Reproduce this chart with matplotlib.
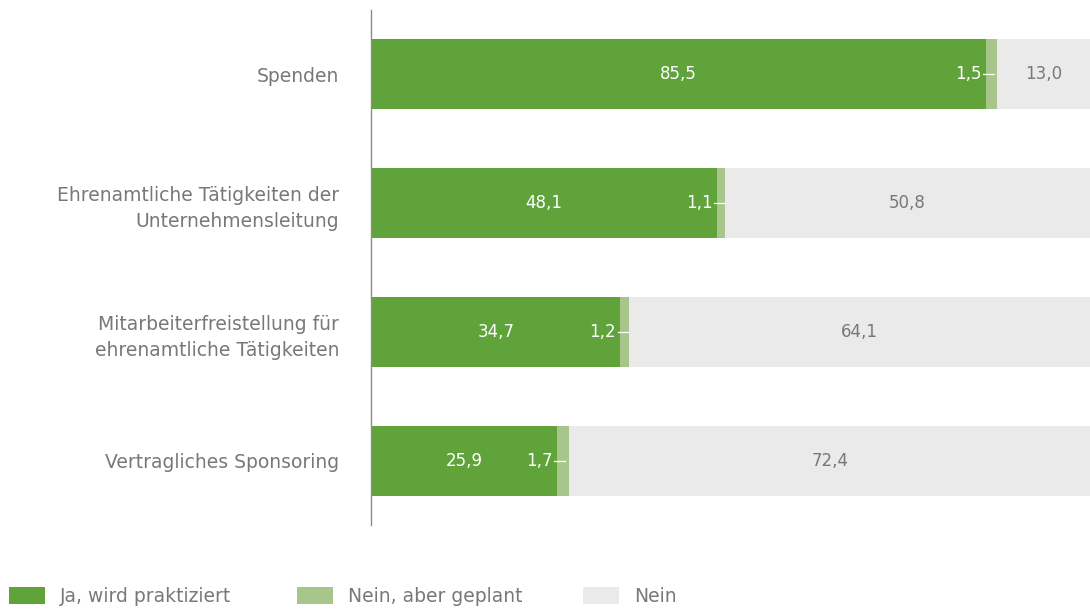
import matplotlib
matplotlib.use("Agg")
import matplotlib.pyplot as plt
from matplotlib.patches import Rectangle

# data (percent)
categories = ["Spenden",
              "Ehrenamtliche Tätigkeiten der\nUnternehmensleitung",
              "Mitarbeiterfreistellung für\nehrenamtliche Tätigkeiten",
              "Vertragliches Sponsoring"]
ja = [85.5, 48.1, 34.7, 25.9]
geplant = [1.5, 1.1, 1.2, 1.7]
nein = [13.0, 50.8, 64.1, 72.4]
series_labels = ["Ja, wird praktiziert", "Nein, aber geplant", "Nein"]

C_JA = "#5FA33A"
C_PLAN = "#A8C68C"
C_NEIN = "#EAEAEA"
C_TEXT = "#787878"

plt.rcParams["font.family"] = ["DejaVu Sans"]

fig = plt.figure(figsize=(10.9, 6.09), dpi=100)
ax = fig.add_axes([371 / 1090, 1 - 525 / 609, 1 - 371 / 1090, (525 - 10) / 609])

ys = list(range(len(categories)))
h = 0.545
ax.barh(ys, ja, height=h, color=C_JA, linewidth=0)
ax.barh(ys, geplant, left=ja, height=h, color=C_PLAN, linewidth=0)
left3 = [a + b for a, b in zip(ja, geplant)]
ax.barh(ys, nein, left=left3, height=h, color=C_NEIN, linewidth=0)

fmt = lambda v: f"{v:.1f}".replace(".", ",")
for y, a, b, c, l3 in zip(ys, ja, geplant, nein, left3):
    ax.text(a / 2, y, fmt(a), ha="center", va="center", color="white", fontsize=12)
    ax.text(a - 0.6, y, fmt(b), ha="right", va="center", color="white", fontsize=12)
    ax.plot([a - 0.4, a + 1.1], [y, y], color="white", lw=0.9)
    ax.text(l3 + c / 2, y, fmt(c), ha="center", va="center", color=C_TEXT, fontsize=12)

ax.set_xlim(0, 100)
ax.set_ylim(3.5, -0.5)
ax.set_yticks(ys)
ax.set_yticklabels(categories, fontsize=13.5, color=C_TEXT, ha="right", linespacing=1.45)
ax.tick_params(axis="y", length=0, pad=23)
ax.set_xticks([])
for s in ["top", "right", "bottom"]:
    ax.spines[s].set_visible(False)
ax.spines["left"].set_color("#8C8C8C")
ax.spines["left"].set_linewidth(1.0)

# legend along the bottom
W, H = 1090, 609
leg_x = [9, 297, 583]
for x0, lab, col in zip(leg_x, series_labels, [C_JA, C_PLAN, C_NEIN]):
    fig.patches.append(Rectangle((x0 / W, 1 - 604 / H), 36 / W, 17 / H,
                                 transform=fig.transFigure, color=col, linewidth=0))
    fig.text((x0 + 51) / W, 1 - 597 / H, lab, fontsize=13.5, color=C_TEXT, va="center", ha="left")

fig.savefig("out.png", dpi=100)
